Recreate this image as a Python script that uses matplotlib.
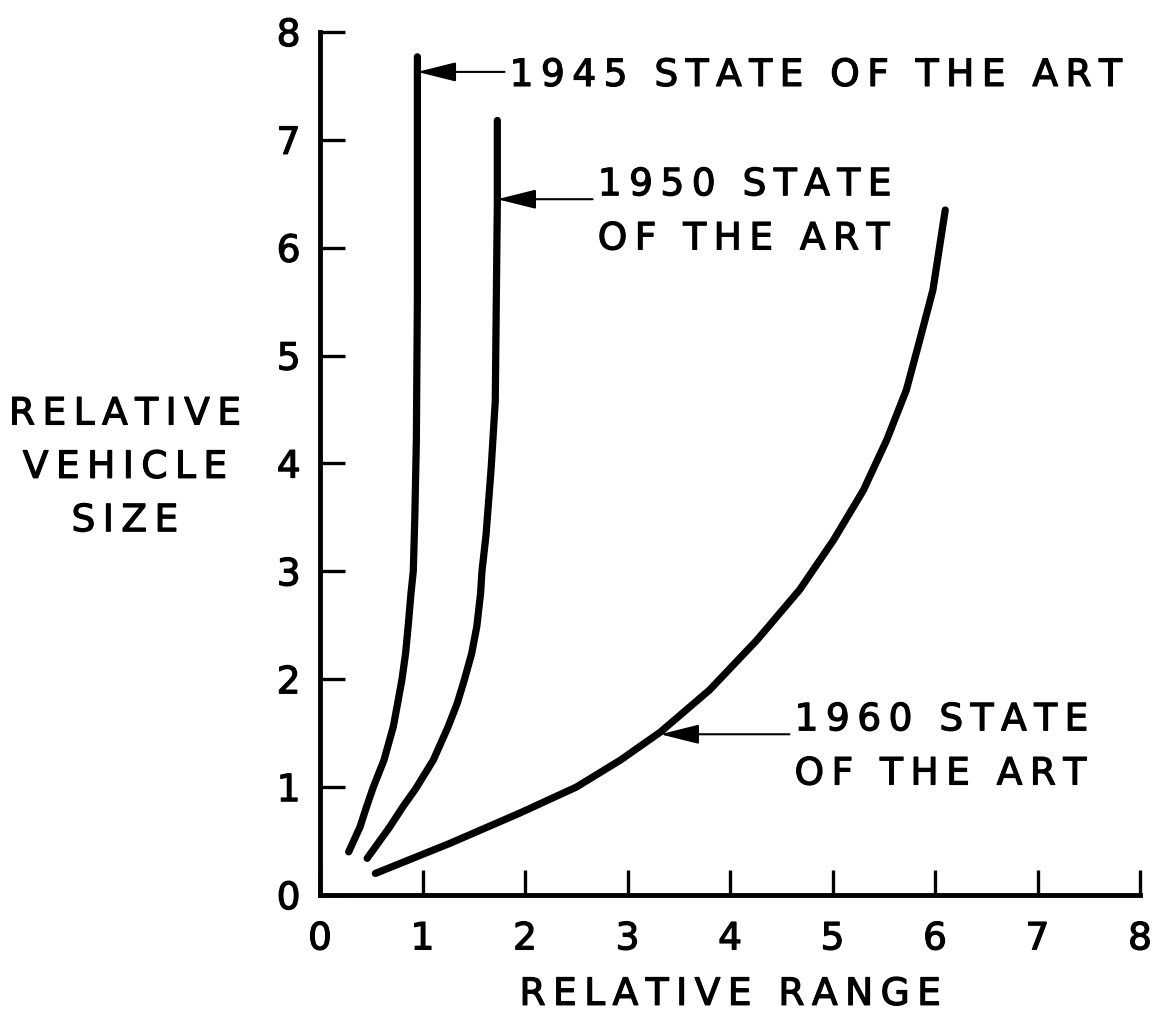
import matplotlib
matplotlib.use("Agg")
import matplotlib.pyplot as plt
import matplotlib.patheffects as pe

# curves (relative range, relative vehicle size)
x_1945 = [0.28, 0.39, 0.455, 0.52, 0.624, 0.715, 0.758, 0.80, 0.835, 0.86, 0.888, 0.91, 0.925, 0.94, 0.95, 0.95, 0.95]
y_1945 = [0.40, 0.63, 0.82, 1.00, 1.25, 1.56, 1.78, 2.00, 2.24, 2.49, 2.80, 3.00, 3.50, 4.21, 5.51, 6.50, 7.77]

x_1950 = [0.46, 0.68, 0.81, 0.93, 1.105, 1.25, 1.34, 1.41, 1.48, 1.53, 1.567, 1.58, 1.62, 1.67, 1.71, 1.72, 1.73, 1.73]
y_1950 = [0.34, 0.63, 0.82, 0.98, 1.25, 1.56, 1.78, 2.00, 2.24, 2.49, 2.80, 3.00, 3.34, 3.96, 4.58, 5.51, 6.40, 7.18]

x_1960 = [0.54, 1.27, 1.95, 2.50, 2.93, 3.32, 3.80, 4.26, 4.68, 5.01, 5.30, 5.53, 5.72, 5.85, 5.98, 6.10]
y_1960 = [0.20, 0.48, 0.76, 1.00, 1.25, 1.51, 1.90, 2.36, 2.83, 3.29, 3.75, 4.22, 4.68, 5.14, 5.61, 6.35]

ticks = list(range(0, 9))
tick_labels = [str(t) for t in ticks]

# (label lines, arrow tip, arrow tail)
notes = [
    (["1945 STATE OF THE ART"], (0.95, 7.63), (1.80, 7.63)),
    (["1950 STATE", "OF THE ART"], (1.73, 6.45), (2.66, 6.45)),
    (["1960 STATE", "OF THE ART"], (3.32, 1.49), (4.58, 1.49)),
]


def spaced(line):
    # wide lettering like the stencil text: thin space between letters
    words = line.split(' ')
    return '\u2009 \u2009'.join('\u2009'.join(w) for w in words)


plt.rcParams['font.family'] = ['DejaVu Sans']
fs = 27
# slightly heavier strokes, like the inked lettering
heavy = [pe.withStroke(linewidth=0.9, foreground='black')]

fig = plt.figure(figsize=(11.58, 10.13), dpi=100)
ax = fig.add_axes([320 / 1158, 118 / 1013, 820 / 1158, 863 / 1013])

for xs, ys in [(x_1945, y_1945), (x_1950, y_1950), (x_1960, y_1960)]:
    ax.plot(xs, ys, color='black', lw=5.2, solid_capstyle='round', solid_joinstyle='round')

for lines, tip, tail in notes:
    ax.annotate('', xy=tip, xytext=tail,
                arrowprops=dict(arrowstyle='-|>,head_length=1.2,head_width=0.3',
                                color='black', lw=1.5, mutation_scale=20,
                                shrinkA=0, shrinkB=0))
    ax.text(tail[0] + 0.05, tail[1], '\n'.join(spaced(l) for l in lines),
            fontsize=fs, ha='left', va='center_baseline', linespacing=1.65,
            path_effects=heavy)

ax.set_xlim(0, 8)
ax.set_ylim(0, 8)
ax.set_xticks(ticks)
ax.set_xticklabels(tick_labels)
ax.set_yticks(ticks)
ax.set_yticklabels(tick_labels)
ax.tick_params(direction='in', length=18, width=2.4, labelsize=fs)
ax.tick_params(axis='x', pad=19)
ax.tick_params(axis='y', pad=14)
for lbl in ax.get_xticklabels() + ax.get_yticklabels():
    lbl.set_path_effects(heavy)

for side in ['top', 'right']:
    ax.spines[side].set_visible(False)
for side in ['left', 'bottom']:
    ax.spines[side].set_linewidth(3.5)
    ax.spines[side].set_capstyle('projecting')

ax.set_xlabel(spaced('RELATIVE RANGE'), fontsize=fs, labelpad=14, path_effects=heavy)
ax.text(-0.238, 0.495, '\n'.join(spaced(w) for w in ['RELATIVE', 'VEHICLE', 'SIZE']),
        transform=ax.transAxes, fontsize=fs, ha='center', va='center', linespacing=1.62,
        path_effects=heavy)

fig.savefig('out.png', dpi=100)
